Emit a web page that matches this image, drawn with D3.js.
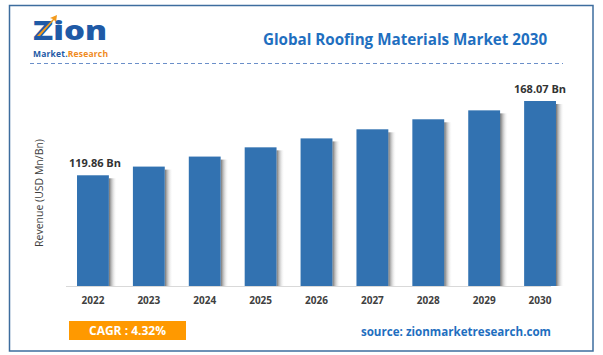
<!DOCTYPE html>
<html>
<head>
<meta charset="utf-8">
<script src="https://cdn.jsdelivr.net/npm/d3@7"></script>
<style>
  html, body { margin: 0; padding: 0; background: #fff; }
  svg { display: block; }
</style>
</head>
<body>
<svg id="chart" width="603" height="355"></svg>
<script>
const years = ["2022", "2023", "2024", "2025", "2026", "2027", "2028", "2029", "2030"];
const revenue = [119.86, 125.5, 132.0, 138.0, 143.8, 149.7, 156.2, 162.0, 168.07];
const valueLabels = ["119.86 Bn", "", "", "", "", "", "", "", "168.07 Bn"];
const titleText = "Global Roofing Materials Market 2030";
const yAxisTitle = "Revenue (USD Mn/Bn)";
const cagrText = "CAGR : 4.32%";
const sourceText = "source: zionmarketresearch.com";

const svg = d3.select("#chart");
const font = "'Open Sans', 'Noto Sans', sans-serif";

// frame
svg.append("rect").attr("x", 9.5).attr("y", 5.5).attr("width", 583.5).attr("height", 345.5)
  .attr("fill", "none").attr("stroke", "#3d6d9e").attr("stroke-width", 1.5);

// logo
const logo = svg.append("g");
logo.append("text").attr("x", 33).attr("y", 40).attr("font-family", font).attr("font-weight", 800)
  .attr("font-size", 26).attr("fill", "#1f5aa6").attr("textLength", 74).attr("lengthAdjust", "spacingAndGlyphs").text("Zion");
logo.append("path").attr("d", "M37,36 L53,19 L50,18 L57,15 L56,22 L54,20 L40,36 Z").attr("fill", "#f39b1d");
logo.append("text").attr("x", 33).attr("y", 56.5).attr("font-family", font).attr("font-weight", 700)
  .attr("font-size", 8.5).attr("fill", "#1f5aa6").attr("textLength", 75).text("Market.")
  .append("tspan").attr("fill", "#f08a1c").text("Research");

// title
svg.append("text").attr("x", 405).attr("y", 45).attr("text-anchor", "middle")
  .attr("font-family", font).attr("font-weight", 700).attr("font-size", 15.2)
  .attr("fill", "#1f6fc0").text(titleText);

// dashed separator
svg.append("line").attr("x1", 30).attr("x2", 563).attr("y1", 63.5).attr("y2", 63.5)
  .attr("stroke", "#6b8fc9").attr("stroke-width", 1.2).attr("stroke-dasharray", "4,3");

// scales
const x = d3.scaleBand().domain(years).range([65, 568]).paddingInner(0.43).paddingOuter(0.215);
const y = d3.scaleLinear().domain([48, 168.07]).range([286, 101]);

// shadow gradient
const defs = svg.append("defs");
const grad = defs.append("linearGradient").attr("id", "shadow").attr("x1", 0).attr("x2", 1).attr("y1", 0).attr("y2", 0);
grad.append("stop").attr("offset", "0%").attr("stop-color", "#555").attr("stop-opacity", 0.85);
grad.append("stop").attr("offset", "100%").attr("stop-color", "#fff").attr("stop-opacity", 0);

const data = years.map((yr, i) => ({ yr, v: revenue[i], label: valueLabels[i] }));

svg.append("g").selectAll("rect").data(data).join("rect")
  .attr("x", d => x(d.yr) + x.bandwidth())
  .attr("y", d => y(d.v) + 3)
  .attr("width", 8)
  .attr("height", d => y.range()[0] - y(d.v) - 3)
  .attr("fill", "url(#shadow)");

svg.append("g").selectAll("rect").data(data).join("rect")
  .attr("x", d => x(d.yr))
  .attr("y", d => y(d.v))
  .attr("width", x.bandwidth())
  .attr("height", d => y.range()[0] - y(d.v))
  .attr("fill", "#3272b1");

// baseline axis
const baseY = y.range()[0];
svg.append("line").attr("x1", x.range()[0] + 1).attr("x2", x.range()[1] - 17)
  .attr("y1", baseY + 0.5).attr("y2", baseY + 0.5).attr("stroke", "#d9d9d9").attr("stroke-width", 1);

// x axis labels
const xAxis = d3.axisBottom(x).tickSize(0).tickPadding(11);
const gx = svg.append("g").attr("transform", `translate(0,${baseY})`).call(xAxis);
gx.select(".domain").remove();
gx.selectAll("text").attr("font-family", font).attr("font-weight", 700).attr("font-size", 10)
  .attr("fill", "#404040");

// value labels
svg.append("g").selectAll("text").data(data.filter(d => d.label)).join("text")
  .attr("x", d => x(d.yr) + x.bandwidth() / 2 + (d.yr === "2022" ? 2 : 0))
  .attr("y", d => y(d.v) - 8)
  .attr("text-anchor", "middle")
  .attr("font-family", font).attr("font-weight", 700).attr("font-size", 11)
  .attr("fill", "#333").text(d => d.label);

// y axis title
svg.append("text").attr("transform", "translate(43,193) rotate(-90)").attr("text-anchor", "middle")
  .attr("font-family", font).attr("font-size", 10.5).attr("fill", "#404040").text(yAxisTitle);

// CAGR box
svg.append("rect").attr("x", 69).attr("y", 321).attr("width", 117).attr("height", 19).attr("fill", "#ff9900");
svg.append("text").attr("x", 127.5).attr("y", 335).attr("text-anchor", "middle")
  .attr("font-family", font).attr("font-weight", 700).attr("font-size", 12).attr("fill", "#fff").text(cagrText);

// source
svg.append("text").attr("x", 551).attr("y", 336).attr("text-anchor", "end")
  .attr("font-family", font).attr("font-weight", 700).attr("font-size", 11.6).attr("fill", "#1f6fc0").text(sourceText);
</script>
</body>
</html>
